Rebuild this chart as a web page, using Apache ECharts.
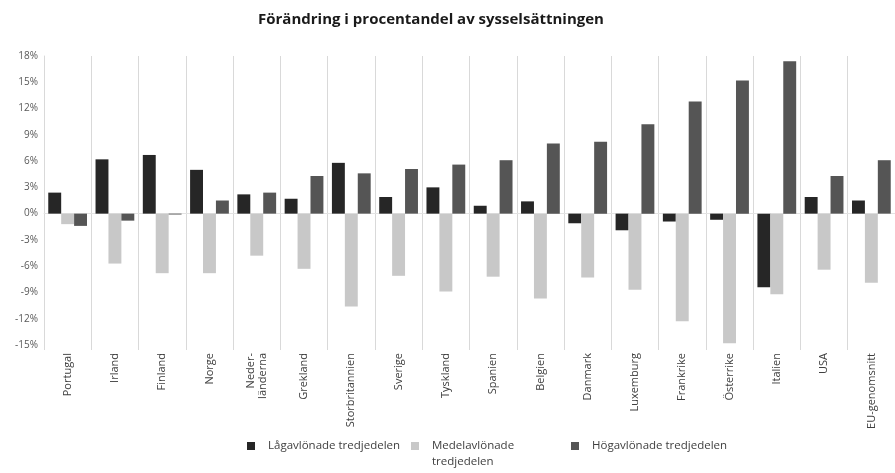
<!DOCTYPE html>
<html>
<head>
<meta charset="utf-8">
<script src="https://cdn.jsdelivr.net/npm/echarts@6/dist/echarts.min.js"></script>
<style>
  html, body { margin: 0; padding: 0; background: #fff; }
  #chart { width: 895px; height: 473px; }
</style>
</head>
<body>
<div id="chart"></div>
<script>
// länder (kategorier)
var countries = ['Portugal', 'Irland', 'Finland', 'Norge', 'Neder-\nländerna', 'Grekland', 'Storbritannien',
  'Sverige', 'Tyskland', 'Spanien', 'Belgien', 'Danmark', 'Luxemburg', 'Frankrike', 'Österrike',
  'Italien', 'USA', 'EU-genomsnitt'];

// förändring i procentenheter
var lowPaid  = [2.4, 6.2, 6.7, 5.0, 2.2, 1.7, 5.8, 1.9, 3.0, 0.9, 1.4, -1.1, -1.9, -0.9, -0.7, -8.4, 1.9, 1.5];
var midPaid  = [-1.2, -5.7, -6.8, -6.8, -4.8, -6.3, -10.6, -7.1, -8.9, -7.2, -9.7, -7.3, -8.7, -12.3, -14.8, -9.2, -6.4, -7.9];
var highPaid = [-1.4, -0.8, -0.1, 1.5, 2.4, 4.3, 4.6, 5.1, 5.6, 6.1, 8.0, 8.2, 10.2, 12.8, 15.2, 17.4, 4.3, 6.1];

var seriesNames = ['Lågavlönade tredjedelen', 'Medelavlönade\ntredjedelen', 'Högavlönade tredjedelen'];
var colors = ['#262626', '#c8c8c8', '#555555'];

var font = '"Open Sans", sans-serif';

var chart = echarts.init(document.getElementById('chart'));

function legendFor(i, left) {
  var twoLines = i === 1;
  return {
    data: [seriesNames[i]],
    left: left,
    top: twoLines ? 417 : 433,
    itemWidth: 8,
    itemHeight: 8,
    icon: 'rect',
    // tom rad överst så att första raden hamnar i höjd med rutan
    formatter: twoLines ? function (name) { return ' \n' + name; } : '{name}',
    textStyle: { fontFamily: font, fontSize: 11.5, color: '#404040', lineHeight: 16, padding: [0, 0, 0, 8] }
  };
}

var option = {
  animation: false,
  title: {
    text: 'Förändring i procentandel av sysselsättningen',
    left: 253,
    top: 7,
    textStyle: { fontFamily: font, fontSize: 15, fontWeight: 'bold', color: '#1a1a1a' }
  },
  color: colors,
  legend: [legendFor(0, 242), legendFor(1, 406), legendFor(2, 566)],
  grid: { left: 44, right: 0, top: 56, bottom: 128, containLabel: false },
  xAxis: [{
    type: 'category',
    data: countries,
    axisLine: { onZero: false, show: false },
    axisTick: { show: true, length: 5, lineStyle: { color: '#d9d9d9' } },
    splitLine: { show: true, lineStyle: { color: '#d9d9d9', width: 1 } },
    axisLabel: {
      rotate: 90,
      interval: 0,
      margin: 8,
      fontFamily: font,
      fontSize: 11,
      color: '#404040',
      lineHeight: 12
    }
  }, {
    // nollinjen
    type: 'category',
    data: countries,
    position: 'bottom',
    axisLine: { onZero: true, show: true, lineStyle: { color: '#e3e3e3' } },
    axisTick: { show: false },
    axisLabel: { show: false },
    splitLine: { show: false }
  }],
  yAxis: {
    type: 'value',
    min: -15,
    max: 18,
    interval: 3,
    axisLine: { show: true, lineStyle: { color: '#d9d9d9' } },
    axisTick: { show: false },
    splitLine: { show: false },
    axisLabel: {
      formatter: '{value}%',
      margin: 6,
      fontFamily: font,
      fontSize: 10,
      color: '#595959'
    }
  },
  series: [0, 1, 2].map(function (i) {
    return {
      name: seriesNames[i],
      type: 'bar',
      data: [lowPaid, midPaid, highPaid][i],
      barGap: '0%',
      barCategoryGap: '18%',
      itemStyle: { color: colors[i] }
    };
  })
};

chart.setOption(option);
</script>
</body>
</html>
